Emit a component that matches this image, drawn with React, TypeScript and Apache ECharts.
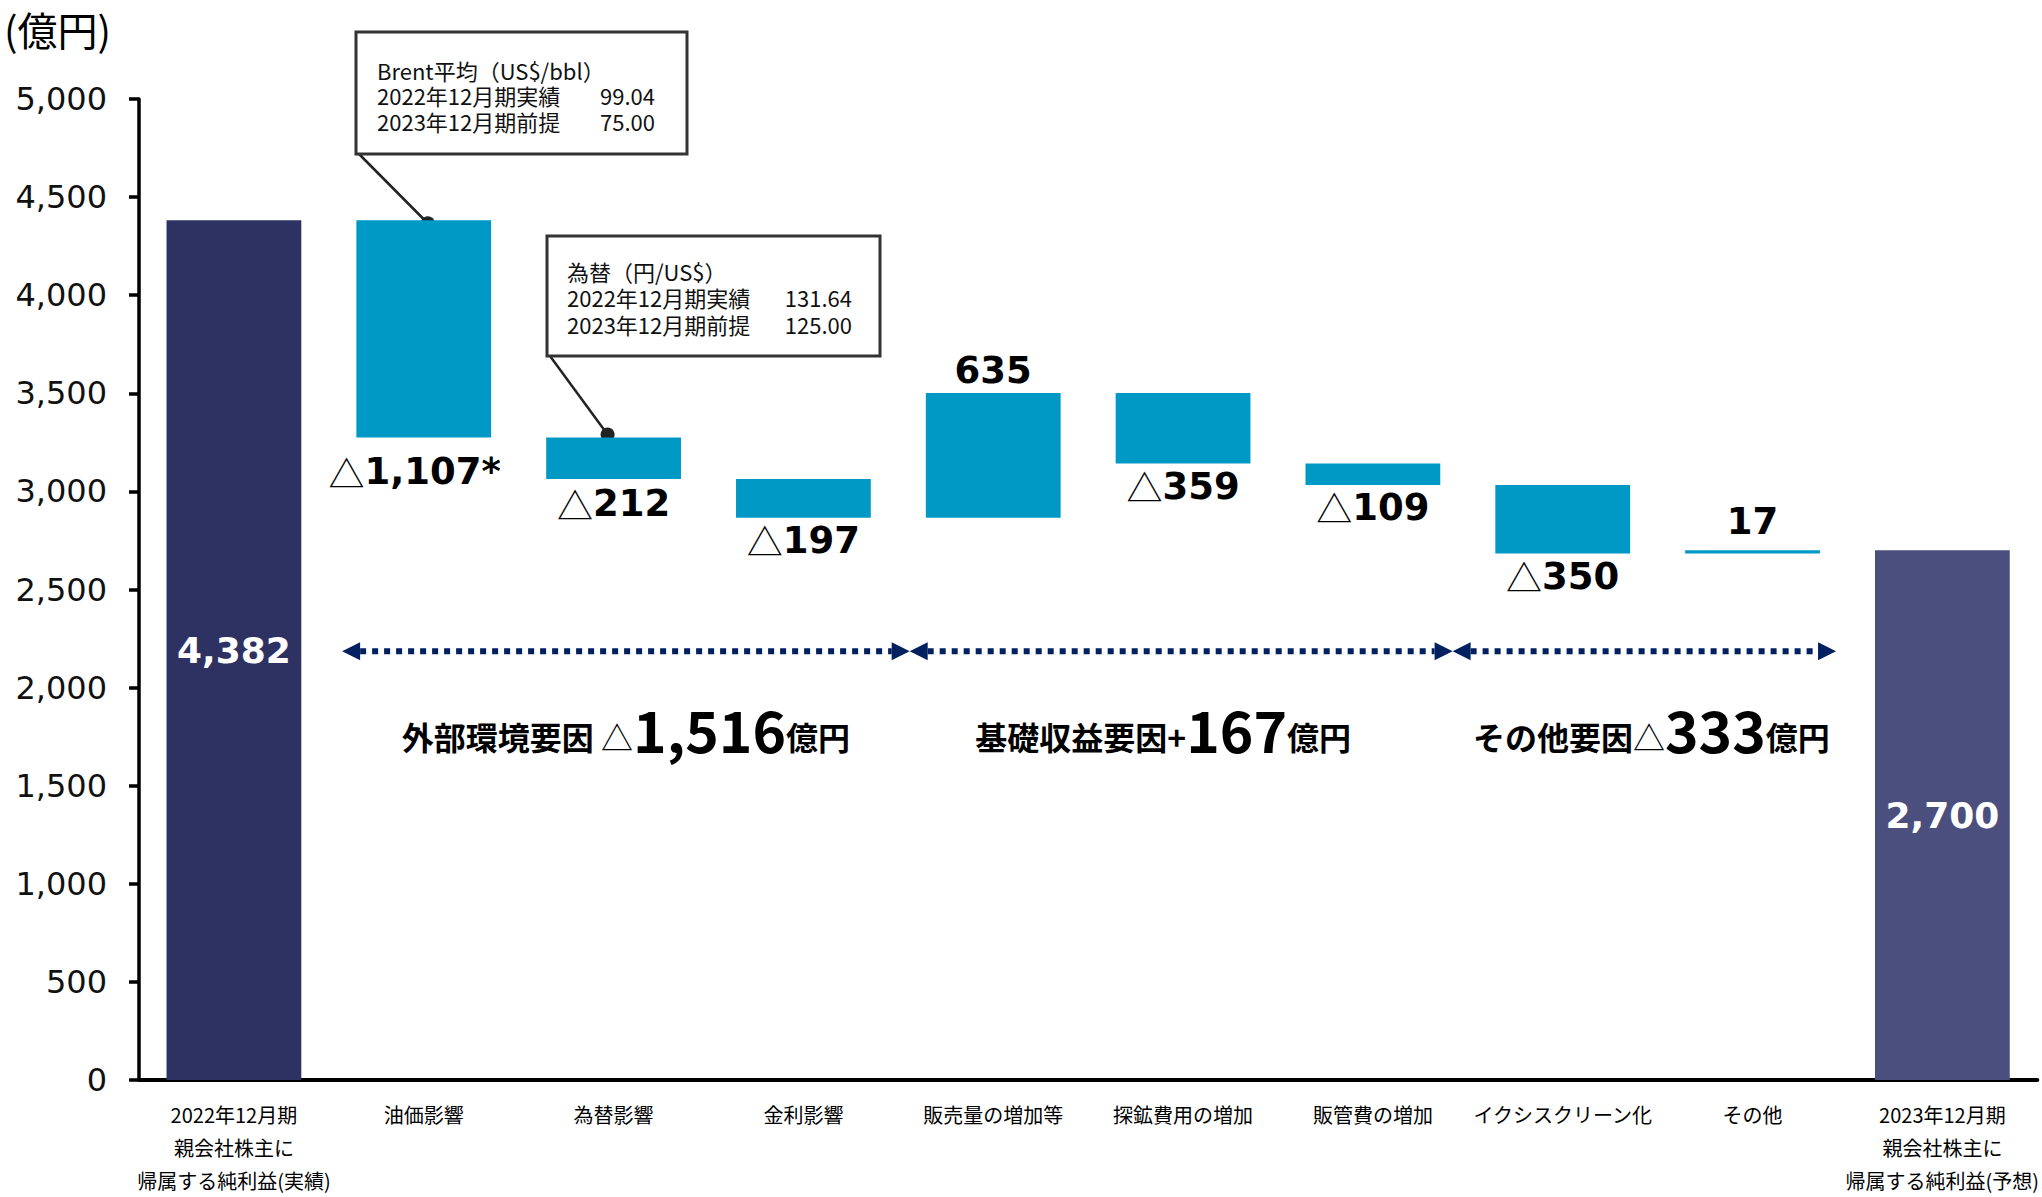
import React, { useEffect, useRef } from "react";
import * as echarts from "echarts";

// ---------- data ----------
const categories = [
  "2022年12月期\n親会社株主に\n帰属する純利益(実績)",
  "油価影響",
  "為替影響",
  "金利影響",
  "販売量の増加等",
  "探鉱費用の増加",
  "販管費の増加",
  "イクシスクリーン化",
  "その他",
  "2023年12月期\n親会社株主に\n帰属する純利益(予想)",
];
const startTotal = 4382;
const changes = [-1107, -212, -197, 635, -359, -109, -350, 17];
const changeNotes = ["*", "", "", "", "", "", "", ""];
const endTotal = 2700;
const yMin = 0;
const yMax = 5000;
const yInterval = 500;
const unitLabel = "(億円)";

const groupNames = ["外部環境要因 ", "基礎収益要因", "その他要因"];
const groupRanges = [
  [0, 3],
  [3, 6],
  [6, 8],
];

const brentNote = ["Brent平均（US$/bbl）", "2022年12月期実績", "2023年12月期前提"];
const brentValues = ["99.04", "75.00"];
const fxNote = ["為替（円/US$）", "2022年12月期実績", "2023年12月期前提"];
const fxValues = ["131.64", "125.00"];

// ---------- styles ----------
const C_START = "#2E3262";
const C_END = "#4B4F7D";
const C_CHANGE = "#0099C6";
const C_ARROW = "#002060";
const JP = "'Noto Sans CJK JP', 'Noto Sans', sans-serif";
const NUM = "'DejaVu Sans', 'Noto Sans CJK JP', sans-serif";

const fmt = (v: number) => Math.abs(v).toLocaleString("en-US");

export default function App() {
  const ref = useRef<HTMLDivElement>(null);

  useEffect(() => {
    if (!ref.current) return;
    const chart = echarts.init(ref.current, null, { renderer: "svg" });

    // waterfall bases
    const base: number[] = [0];
    const vis: any[] = [];
    vis.push({
      value: startTotal,
      itemStyle: { color: C_START },
      label: {
        show: true,
        position: "inside",
        formatter: fmt(startTotal),
        color: "#fff",
        fontSize: 36,
        fontWeight: "bold",
        fontFamily: NUM,
      },
    });
    let run = startTotal;
    const bottomDist = [16, 6, 4, 0, 4, 4, 4, 0];
    const labelShift = [-9, 0, 0, 0, 0, 0, 0, 0];
    changes.forEach((c, i) => {
      const next = run + c;
      base.push(Math.min(run, next));
      const neg = c < 0;
      vis.push({
        value: Math.abs(c),
        itemStyle: { color: C_CHANGE },
        label: {
          show: true,
          position: neg ? "bottom" : "top",
          distance: neg ? bottomDist[i] : c < 50 ? 10 : 4,
          offset: [labelShift[i], 0],
          formatter: neg
            ? `{t|△}{n|${fmt(c)}${changeNotes[i]}}`
            : `{n|${fmt(c)}${changeNotes[i]}}`,
          rich: {
            t: { fontSize: 36, fontFamily: JP, fontWeight: "normal", color: "#000" },
            n: { fontSize: 37, fontFamily: NUM, fontWeight: "bold", color: "#000" },
          },
        },
      });
      run = next;
    });
    base.push(0);
    vis.push({
      value: endTotal,
      itemStyle: { color: C_END },
      label: {
        show: true,
        position: "inside",
        formatter: fmt(endTotal),
        color: "#fff",
        fontSize: 36,
        fontWeight: "bold",
        fontFamily: NUM,
      },
    });

    const option: any = {
      animation: false,
      grid: { left: 139, right: 2, top: 99, bottom: 110, containLabel: false },
      xAxis: {
        type: "category",
        data: categories,
        axisLine: { show: true, lineStyle: { color: "#000", width: 4 } },
        axisTick: { show: false },
        axisLabel: {
          interval: 0,
          fontSize: 20,
          lineHeight: 33,
          color: "#000",
          fontFamily: JP,
          margin: 18,
        },
      },
      yAxis: {
        type: "value",
        min: yMin,
        max: yMax,
        interval: yInterval,
        axisLine: { show: true, lineStyle: { color: "#000", width: 3.5 } },
        axisTick: { show: true, length: 10, lineStyle: { color: "#000", width: 3.5 } },
        splitLine: { show: false },
        axisLabel: {
          fontSize: 32,
          color: "#111",
          fontFamily: NUM,
          margin: 32,
          formatter: (v: number) => v.toLocaleString("en-US"),
        },
      },
      series: [
        {
          type: "bar",
          stack: "w",
          data: base,
          barWidth: "71%",
          itemStyle: { color: "transparent" },
          emphasis: { disabled: true },
          silent: true,
        },
        {
          type: "bar",
          stack: "w",
          data: vis,
          barWidth: "71%",
          emphasis: { disabled: true },
        },
      ],
    };
    chart.setOption(option);

    const px = (c: number, v: number) =>
      chart.convertToPixel({ gridIndex: 0 }, [c, v]) as number[];
    const c0 = px(0, 0)[0];
    const catW = px(1, 0)[0] - c0;
    const gx = (u: number) => c0 - catW / 2 + u * catW;

    const g: any[] = [];
    // unit label
    g.push({
      type: "text",
      x: 4,
      y: 29,
      style: { text: unitLabel, fontSize: 40, fontFamily: JP, fill: "#000", verticalAlign: "middle" },
    });

    // arrows
    const arrowY = px(0, 2185)[1];
    const spans = [
      [1.07, 4.06],
      [4.06, 6.92],
      [6.92, 8.94],
    ];
    const textShift = [0, -18, 7];
    const ah = 18;
    spans.forEach(([a, b]) => {
      const xa = gx(a);
      const xb = gx(b);
      g.push({
        type: "line",
        shape: { x1: xa + ah, y1: arrowY, x2: xb - ah, y2: arrowY },
        style: { stroke: C_ARROW, lineWidth: 6, lineDash: [6, 6] },
      });
      g.push({
        type: "polygon",
        shape: { points: [[xa, arrowY], [xa + ah, arrowY - 9], [xa + ah, arrowY + 9]] },
        style: { fill: C_ARROW },
      });
      g.push({
        type: "polygon",
        shape: { points: [[xb, arrowY], [xb - ah, arrowY - 9], [xb - ah, arrowY + 9]] },
        style: { fill: C_ARROW },
      });
    });

    // group labels
    const textY = px(0, 1796)[1];
    groupRanges.forEach(([s, e], i) => {
      const sum = changes.slice(s, e).reduce((p, q) => p + q, 0);
      const sign = sum < 0 ? "{t|△}" : "{p|+}";
      const cx = (gx(spans[i][0]) + gx(spans[i][1])) / 2 + textShift[i];
      g.push({
        type: "text",
        x: cx,
        y: textY,
        style: {
          text: `{a|${groupNames[i]}}${sign}{n|${fmt(sum)}}{a|億円}`,
          align: "center",
          verticalAlign: "middle",
          rich: {
            a: { fontSize: 32, fontWeight: "bold", fontFamily: JP, fill: "#000", verticalAlign: "bottom", padding: [0, 0, 4, 0] },
            p: { fontSize: 32, fontWeight: "bold", fontFamily: JP, fill: "#000", verticalAlign: "bottom", padding: [0, 0, 4, 0] },
            t: { fontSize: 32, fontWeight: "normal", fontFamily: JP, fill: "#000", verticalAlign: "bottom", padding: [0, 0, 4, 0] },
            n: { fontSize: 57, fontWeight: "bold", fontFamily: JP, fill: "#000", verticalAlign: "bottom" },
          },
        },
      });
    });

    // callout boxes
    const callout = (
      box: number[],
      lines: string[],
      vals: string[],
      textX: number,
      valX: number,
      midY: number,
      lh: number,
      dot: number[]
    ) => {
      const [bx, by, bw, bh] = box;
      g.push({
        type: "line",
        shape: { x1: bx + 3, y1: by + bh, x2: dot[0], y2: dot[1] },
        style: { stroke: "#222", lineWidth: 2.5 },
      });
      g.push({
        type: "rect",
        shape: { x: bx, y: by, width: bw, height: bh },
        style: { fill: "#fff", stroke: "#333", lineWidth: 3 },
      });
      g.push({ type: "circle", shape: { cx: dot[0], cy: dot[1], r: 7 }, style: { fill: "#222" } });
      g.push({
        type: "text",
        x: textX,
        y: midY,
        style: {
          text: lines.join("\n"),
          fontSize: 22,
          lineHeight: lh,
          fontFamily: JP,
          fill: "#111",
          verticalAlign: "middle",
        },
      });
      g.push({
        type: "text",
        x: valX,
        y: midY + lh / 2,
        style: {
          text: vals.join("\n"),
          fontSize: 22,
          lineHeight: lh,
          fontFamily: JP,
          fill: "#111",
          verticalAlign: "middle",
          align: "right",
        },
      });
    };
    const d1 = px(1, startTotal);
    callout([356, 32, 331, 122], brentNote, brentValues, 377, 655, 95, 25.5, [d1[0] + 4, d1[1] + 3]);
    const d2 = px(2, startTotal + changes[0]);
    callout([547, 236, 333, 120], fxNote, fxValues, 567, 852, 297, 26.5, [d2[0] - 6, d2[1] - 3]);

    chart.setOption({ graphic: g });

    return () => chart.dispose();
  }, []);

  return (
    <div
      ref={ref}
      style={{ position: "absolute", left: 0, top: 0, width: 2042, height: 1197, background: "#fff" }}
    />
  );
}
